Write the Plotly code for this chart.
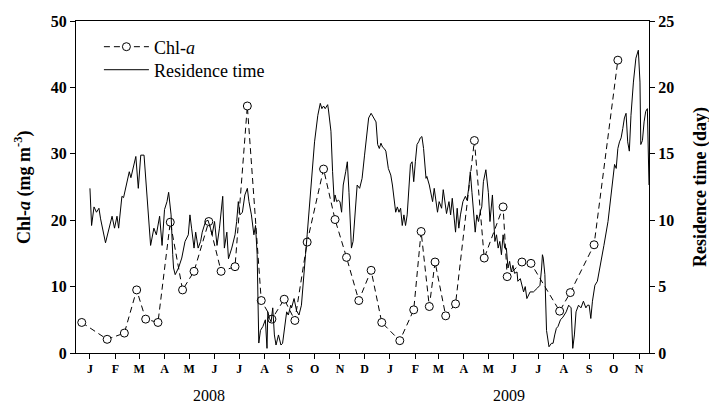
import pandas as pd
import plotly.graph_objects as go

# ---- data (days since 2008-01-01) ----
chl_days = [-10, 21, 42, 57, 68, 83, 98, 113, 127, 145, 160, 177, 192, 209, 222, 237, 250, 265,
            285, 299, 313, 328, 343, 356, 378, 395, 404, 414, 421, 434, 446, 469, 481, 504,
            509, 527, 538, 573, 586, 615, 644]
chl_values = [4.6, 2.06, 3.0, 9.5, 5.1, 4.6, 19.7, 9.5, 12.3, 19.8, 12.3, 13.0, 37.2, 7.9, 5.1,
              8.1, 4.9, 16.7, 27.7, 20.1, 14.4, 7.9, 12.45, 4.6, 1.86, 6.5, 18.3, 7.0, 13.7, 5.6,
              7.4, 32.0, 14.3, 22.0, 11.5, 13.7, 13.5, 6.3, 9.1, 16.3, 44.1]

res_days = [0, 2, 5, 8, 11, 13, 19, 24, 27, 30, 33, 35, 39, 41, 44, 48, 50, 53, 56, 59, 62, 66,
            70, 74, 78, 81, 85, 88, 91, 94, 96, 99, 101, 102, 104, 108, 112, 116, 120, 122, 124,
            127, 129, 132, 135, 137, 141, 144, 147, 149, 152, 155, 158, 160, 162, 164, 167, 169,
            173, 177, 179, 181, 183, 186, 189, 192, 194, 197, 200, 202, 204, 205, 206, 208, 211,
            214, 216, 217, 219, 221, 223, 225, 227, 230, 233, 235, 238, 240, 242, 245, 246, 249,
            252, 255, 258, 260, 263, 265, 268, 271, 274, 278, 281, 283, 285, 287, 290, 291, 294,
            296, 298, 299, 301, 303, 305, 307, 309, 312, 314, 316, 319, 321, 324, 326, 329, 332,
            335, 338, 340, 343, 346, 349, 351, 353, 355, 357, 359, 361, 364, 367, 369, 371, 373,
            375, 377, 379, 381, 383, 385, 387, 389, 391, 393, 395, 397, 399, 401, 403, 405, 407,
            410, 411, 414, 416, 418, 420, 422, 424, 426, 429, 431, 433, 435, 438, 440, 442, 444,
            446, 448, 450, 452, 455, 458, 460, 462, 464, 466, 468, 470, 472, 474, 476, 478, 480,
            483, 486, 488, 491, 492, 494, 496, 498, 500, 502, 504, 506, 508, 510, 512, 514, 516,
            518, 521, 522, 525, 527, 529, 531, 533, 537, 541, 546, 549, 551, 552, 553, 555, 557,
            559, 560, 563, 565, 567, 569, 571, 574, 577, 581, 584, 586, 587, 589, 591, 593, 596,
            599, 602, 605, 607, 609, 611, 613, 616, 619, 623, 627, 632, 636, 640, 642, 644, 646,
            648, 650, 652, 654, 656, 658, 660, 663, 666, 669, 671, 672, 674, 676, 678, 680, 682]
res_values = [12.4, 9.6, 11.0, 10.6, 10.9, 10.1, 8.3, 9.6, 10.3, 9.4, 10.3, 9.4, 11.8, 11.7, 12.65,
              13.65, 13.2, 13.9, 14.8, 12.4, 14.9, 14.9, 11.4, 8.1, 9.4, 8.9, 10.3, 8.1, 10.8,
              11.4, 12.1, 10.4, 7.4, 6.4, 5.9, 6.4, 7.15, 8.4, 8.9, 10.4, 9.4, 7.9, 9.1, 7.9, 8.4,
              9.1, 9.9, 10.0, 9.4, 8.9, 9.9, 8.1, 9.4, 10.6, 11.8, 7.9, 9.1, 7.1, 7.9, 8.9, 9.9,
              11.4, 10.4, 10.6, 11.9, 12.4, 11.4, 10.4, 8.9, 9.6, 7.4, 4.0, 0.75, 1.7, 2.0, 2.5,
              0.35, 3.1, 2.6, 2.35, 3.4, 1.36, 0.6, 1.36, 0.6, 0.73, 2.0, 3.1, 2.86, 3.6, 3.4,
              4.1, 3.2, 2.86, 3.6, 5.4, 7.4, 8.9, 11.4, 13.9, 15.9, 17.9, 18.8, 18.4, 18.6, 18.4,
              18.7, 18.3, 16.7, 13.65, 11.4, 11.9, 11.4, 11.5, 11.4, 10.6, 12.65, 13.65, 14.4,
              12.1, 7.9, 8.4, 10.9, 12.65, 12.4, 13.15, 14.9, 16.9, 17.7, 18.05, 17.7, 17.4, 15.7,
              15.4, 15.8, 15.5, 15.4, 15.2, 13.9, 13.4, 12.65, 11.4, 10.6, 11.0, 10.6, 10.9, 9.6,
              10.4, 9.6, 10.4, 12.4, 14.2, 14.4, 12.9, 14.4, 15.7, 15.9, 16.2, 16.3, 15.4, 13.15,
              13.3, 12.65, 11.9, 11.4, 12.4, 11.4, 10.6, 11.4, 10.9, 12.3, 11.4, 10.5, 11.4, 10.4,
              11.65, 10.1, 9.1, 10.9, 9.4, 10.4, 11.4, 11.8, 11.5, 12.4, 13.65, 12.1, 10.4, 9.1,
              10.4, 9.9, 10.6, 11.0, 12.9, 13.8, 12.1, 9.9, 11.9, 10.4, 8.4, 8.9, 7.9, 8.4, 7.4,
              8.9, 7.9, 7.9, 6.4, 6.9, 6.1, 6.6, 6.0, 6.1, 5.4, 5.6, 5.1, 4.6, 5.0, 4.1, 4.6, 4.6,
              4.9, 5.1, 6.4, 7.4, 7.15, 5.9, 1.7, 0.6, 0.47, 0.73, 0.73, 1.36, 1.86, 2.0, 2.5, 2.7,
              3.1, 3.6, 3.5, 3.4, 0.35, 1.36, 3.1, 3.6, 3.4, 3.9, 3.4, 3.6, 3.6, 2.6, 3.9, 5.1,
              5.4, 6.9, 8.1, 9.9, 11.9, 14.2, 13.9, 15.4, 15.9, 16.2, 16.9, 17.7, 18.05, 15.9,
              15.2, 17.9, 20.4, 22.2, 22.8, 20.4, 15.7, 16.0, 17.4, 18.2, 18.4, 12.65]

month_labels = ["J", "F", "M", "A", "M", "J", "J", "A", "S", "O", "N", "D",
                "J", "F", "M", "A", "M", "J", "J", "A", "S", "O", "N"]
chl_ticks = [0, 10, 20, 30, 40, 50]
res_ticks = [0, 5, 10, 15, 20, 25]
year_labels = ["2008", "2009"]
year_label_dates = ["2008-05-25", "2009-05-26"]

base = pd.Timestamp("2008-01-01")
chl_dates = base + pd.to_timedelta(chl_days, unit="D")
res_dates = base + pd.to_timedelta(res_days, unit="D")
month_ticks = pd.date_range("2008-01-01", periods=len(month_labels), freq="MS")

FONT = "Liberation Serif"

fig = go.Figure()
fig.add_trace(go.Scatter(
    x=res_dates, y=res_values, name="Residence time", mode="lines",
    line=dict(color="black", width=1), yaxis="y2", legend="legend2",
))
fig.add_trace(go.Scatter(
    x=chl_dates, y=chl_values, name="Chl-<i>a</i>", mode="lines+markers",
    line=dict(color="black", width=1, dash="6px,4px"),
    marker=dict(symbol="circle", size=8, color="white", line=dict(color="black", width=1)),
    legend="legend",
))

legend_common = dict(xanchor="left", yanchor="middle", bgcolor="rgba(0,0,0,0)",
                     font=dict(family=FONT, size=18, color="black"), itemwidth=45)

fig.update_layout(
    width=709, height=405,
    margin=dict(l=76, r=60, t=21, b=52),
    paper_bgcolor="white", plot_bgcolor="white",
    font=dict(family=FONT, color="black"),
    showlegend=True,
    legend=dict(x=0.040, y=0.9217, **legend_common),
    legend2=dict(x=0.040, y=0.8524, **legend_common),
    xaxis=dict(
        type="date",
        range=[base + pd.Timedelta(days=-17), base + pd.Timedelta(days=682)],
        tickmode="array", tickvals=month_ticks,
        ticktext=[f"<b>{m}</b>" for m in month_labels],
        ticks="outside", ticklen=5, tickcolor="black", tickwidth=1,
        showline=True, linecolor="black", linewidth=1, mirror=True,
        showgrid=False, zeroline=False,
        tickfont=dict(family=FONT, size=12, color="black"),
    ),
    yaxis=dict(
        range=[0, 50], tickmode="array", tickvals=chl_ticks,
        ticktext=[f"<b>{v}</b>" for v in chl_ticks],
        ticks="outside", ticklen=5, tickcolor="black",
        showline=True, linecolor="black", linewidth=1,
        showgrid=False, zeroline=False,
        tickfont=dict(family=FONT, size=16, color="black"),
    ),
    yaxis2=dict(
        range=[0, 25], tickmode="array", tickvals=res_ticks,
        ticktext=[f"<b>{v}</b>" for v in res_ticks],
        overlaying="y", side="right",
        ticks="outside", ticklen=5, tickcolor="black",
        showline=True, linecolor="black", linewidth=1,
        showgrid=False, zeroline=False,
        tickfont=dict(family=FONT, size=16, color="black"),
    ),
)

for lab, d in zip(year_labels, year_label_dates):
    fig.add_annotation(x=d, xref="x", y=-0.127, yref="paper", text=lab,
                       showarrow=False, font=dict(family=FONT, size=16),
                       xanchor="center", yanchor="middle")

fig.add_annotation(x=0, xref="paper", y=0.5, yref="paper", xshift=-53,
                   text="<b>Chl-<i>a</i> (mg m<sup>-3</sup>)</b>", textangle=-90,
                   showarrow=False, font=dict(family=FONT, size=18),
                   xanchor="center", yanchor="middle")
fig.add_annotation(x=1, xref="paper", y=0.5, yref="paper", xshift=51,
                   text="<b>Residence time (day)</b>", textangle=-90,
                   showarrow=False, font=dict(family=FONT, size=18),
                   xanchor="center", yanchor="middle")

fig.write_html("out.html")
